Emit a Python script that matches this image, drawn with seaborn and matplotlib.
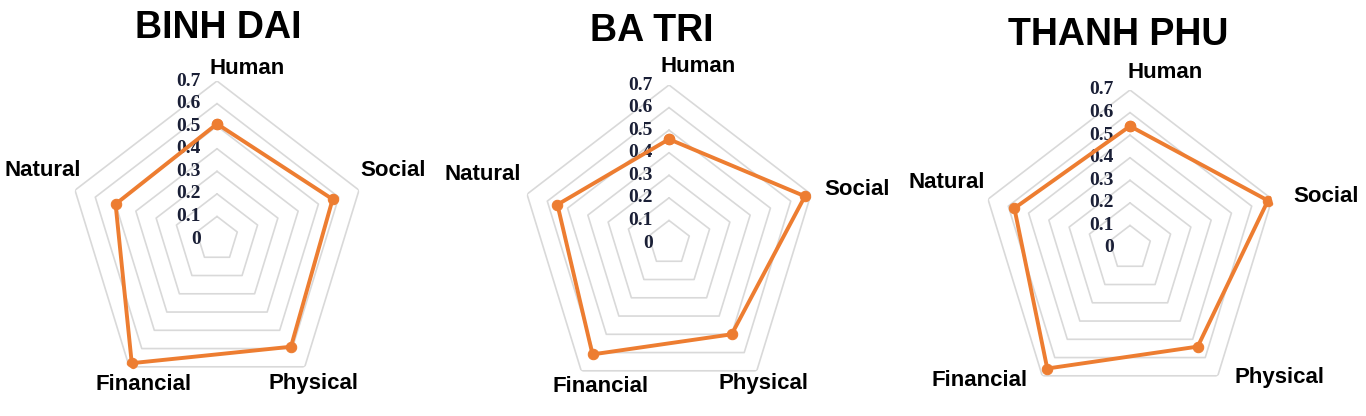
import numpy as np
import matplotlib
matplotlib.use("Agg")
import matplotlib.pyplot as plt
from matplotlib.transforms import offset_copy
import seaborn as sns

# ---- data ----
categories = ["Human", "Social", "Physical", "Financial", "Natural"]
districts = ["BINH DAI", "BA TRI", "THANH PHU"]
binh_dai = [0.51, 0.57, 0.59, 0.68, 0.50]
ba_tri = [0.46, 0.67, 0.50, 0.61, 0.55]
thanh_phu = [0.54, 0.68, 0.54, 0.66, 0.57]
series = [binh_dai, ba_tri, thanh_phu]
tick_values = [0, 0.1, 0.2, 0.3, 0.4, 0.5, 0.6, 0.7]
tick_labels = ["0", "0.1", "0.2", "0.3", "0.4", "0.5", "0.6", "0.7"]

# ---- layout (pixels) ----
W, H = 1366, 416
centers = [(217, 239), (669, 243), (1130, 248)]
radius = 158
xsquash = 0.945
title_pos = [(218, 28), (652, 31), (1118, 35)]
label_pos = [
    [(247, 68), (393, 170), (313, 383), (144, 384), (43, 170)],
    [(698, 67), (857, 189), (763, 383), (601, 386), (483, 175)],
    [(1165, 73), (1326, 196), (1280, 378), (980, 380), (947, 183)],
]

sns.set_theme(style="white")
plt.rcParams["font.family"] = ["Liberation Sans", "DejaVu Sans"]

ORANGE = "#ED7D31"
GRID = "#d9d9d9"
TICKC = "#1a1f36"

fig = plt.figure(figsize=(W / 100, H / 100), dpi=100)
fig.patch.set_facecolor("white")

n = len(categories)
angles = np.linspace(0, 2 * np.pi, n, endpoint=False)
ang_closed = np.concatenate([angles, angles[:1]])

for i, (vals, name) in enumerate(zip(series, districts)):
    cx, cy = centers[i]
    rw = radius * xsquash
    rect = [(cx - rw) / W, 1 - (cy + radius) / H, 2 * rw / W, 2 * radius / H]
    ax = fig.add_axes(rect, projection="polar")
    ax.set_aspect("auto")
    ax.set_theta_offset(np.pi / 2)
    ax.set_theta_direction(-1)
    ax.set_facecolor("none")
    ax.grid(False)
    ax.spines["polar"].set_visible(False)

    # pentagon grid rings
    for r in tick_values[1:]:
        ax.plot(ang_closed, [r] * (n + 1), color=GRID, lw=1.2, zorder=1)

    v_closed = np.concatenate([vals, vals[:1]])
    sns.lineplot(x=ang_closed, y=v_closed, ax=ax, sort=False, estimator=None,
                 color=ORANGE, lw=2.8, marker="o", markersize=7.5,
                 markeredgecolor=ORANGE, zorder=3)

    ax.set_xticks([])
    ax.set_yticks([])
    ax.set_xlabel("")
    ax.set_ylabel("")
    ax.set_ylim(0, 0.7)

    tr = offset_copy(ax.transData, fig=fig, x=-16, y=0, units="dots")
    for v, lab in zip(tick_values, tick_labels):
        ax.text(0, v, lab, transform=tr, ha="right", va="center",
                fontsize=14, fontweight="bold", color=TICKC,
                family=["Liberation Serif", "DejaVu Serif"], zorder=2)

    for cat, (lx, ly) in zip(categories, label_pos[i]):
        fig.text(lx / W, 1 - ly / H, cat, ha="center", va="center",
                 fontsize=16, fontweight="bold", color="black")

    tx, ty = title_pos[i]
    fig.text(tx / W, 1 - ty / H, name, ha="center", va="center",
             fontsize=27, fontweight="bold", color="black")

fig.savefig("out.png", dpi=100, facecolor="white")
